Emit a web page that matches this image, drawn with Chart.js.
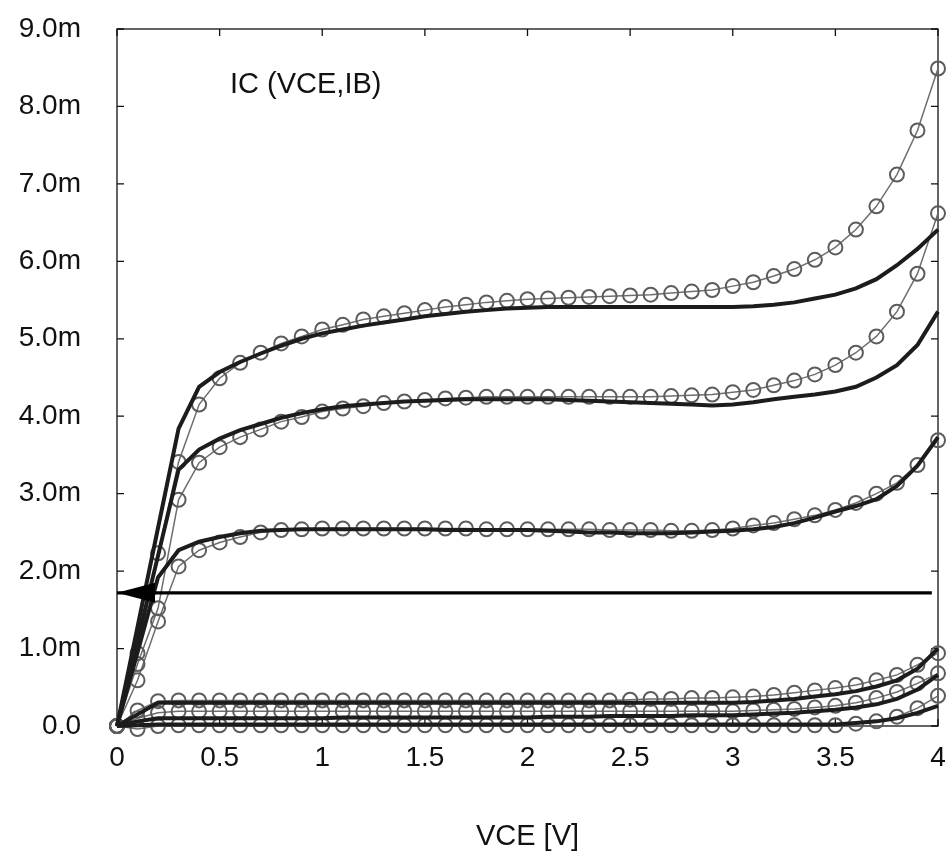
<!DOCTYPE html>
<html>
<head>
<meta charset="utf-8">
<script src="https://cdn.jsdelivr.net/npm/chart.js@4.4.0/dist/chart.umd.min.js"></script>
<style>
  html, body { margin: 0; padding: 0; background: #fff; }
  #wrap { width: 947px; height: 855px; }
</style>
</head>
<body>
<div id="wrap"><canvas id="chart" width="947" height="855"></canvas></div>
<script>
// VCE sweep (V) and IC values (mA), measured (circles) and model (thick)
const vce = [0, 0.1, 0.2, 0.3, 0.4, 0.5, 0.6, 0.7, 0.8, 0.9, 1.0,
  1.1, 1.2, 1.3, 1.4, 1.5, 1.6, 1.7, 1.8, 1.9, 2.0,
  2.1, 2.2, 2.3, 2.4, 2.5, 2.6, 2.7, 2.8, 2.9, 3.0,
  3.1, 3.2, 3.3, 3.4, 3.5, 3.6, 3.7, 3.8, 3.9, 4.0];

const measA = [0, 0.94, 2.23, 3.41, 4.15, 4.49, 4.69, 4.82, 4.94, 5.03, 5.12,
  5.18, 5.25, 5.29, 5.33, 5.37, 5.41, 5.44, 5.47, 5.49, 5.51,
  5.52, 5.53, 5.54, 5.55, 5.56, 5.57, 5.59, 5.61, 5.63, 5.68,
  5.73, 5.81, 5.90, 6.02, 6.18, 6.41, 6.71, 7.12, 7.69, 8.49];
const modelA = [0, 1.28, 2.56, 3.84, 4.38, 4.57, 4.70, 4.81, 4.91, 5.00, 5.07,
  5.12, 5.17, 5.21, 5.25, 5.29, 5.32, 5.35, 5.37, 5.39, 5.40,
  5.41, 5.41, 5.41, 5.41, 5.41, 5.41, 5.41, 5.41, 5.41, 5.41,
  5.42, 5.44, 5.47, 5.52, 5.57, 5.65, 5.77, 5.95, 6.16, 6.41];

const measB = [0, 0.80, 1.52, 2.92, 3.40, 3.60, 3.73, 3.83, 3.93, 3.99, 4.06,
  4.10, 4.13, 4.17, 4.19, 4.21, 4.23, 4.24, 4.25, 4.25, 4.25,
  4.25, 4.25, 4.25, 4.25, 4.25, 4.25, 4.26, 4.27, 4.28, 4.31,
  4.34, 4.40, 4.46, 4.54, 4.66, 4.82, 5.03, 5.35, 5.84, 6.62];
const modelB = [0, 1.10, 2.20, 3.31, 3.57, 3.71, 3.82, 3.90, 3.98, 4.04, 4.09,
  4.13, 4.15, 4.17, 4.19, 4.20, 4.21, 4.22, 4.22, 4.22, 4.22,
  4.22, 4.21, 4.20, 4.19, 4.18, 4.17, 4.16, 4.15, 4.14, 4.15,
  4.18, 4.22, 4.25, 4.28, 4.32, 4.38, 4.50, 4.66, 4.92, 5.35];

const measC = [0, 0.59, 1.35, 2.06, 2.27, 2.37, 2.44, 2.50, 2.53, 2.54, 2.55,
  2.55, 2.55, 2.55, 2.55, 2.55, 2.55, 2.55, 2.54, 2.54, 2.54,
  2.54, 2.54, 2.54, 2.53, 2.53, 2.53, 2.52, 2.52, 2.53, 2.55,
  2.59, 2.62, 2.67, 2.72, 2.79, 2.88, 3.00, 3.14, 3.37, 3.69];
const modelC = [0, 0.95, 1.92, 2.27, 2.38, 2.44, 2.49, 2.52, 2.53, 2.54, 2.54,
  2.54, 2.54, 2.54, 2.54, 2.54, 2.53, 2.53, 2.53, 2.53, 2.53,
  2.52, 2.51, 2.50, 2.50, 2.49, 2.49, 2.49, 2.50, 2.51, 2.52,
  2.54, 2.57, 2.62, 2.69, 2.77, 2.84, 2.93, 3.10, 3.36, 3.73];

const measD = [0, 0.20, 0.32, 0.33, 0.33, 0.33, 0.33, 0.33, 0.33, 0.33, 0.33,
  0.33, 0.33, 0.33, 0.33, 0.33, 0.33, 0.33, 0.33, 0.33, 0.33,
  0.33, 0.33, 0.33, 0.33, 0.34, 0.35, 0.35, 0.36, 0.36, 0.37,
  0.38, 0.40, 0.43, 0.46, 0.49, 0.53, 0.59, 0.66, 0.79, 0.94];
const modelD = [0, 0.15, 0.30, 0.30, 0.30, 0.30, 0.30, 0.30, 0.30, 0.30, 0.30,
  0.30, 0.30, 0.30, 0.30, 0.30, 0.30, 0.30, 0.30, 0.30, 0.30,
  0.30, 0.30, 0.30, 0.30, 0.30, 0.30, 0.30, 0.30, 0.30, 0.30,
  0.31, 0.33, 0.35, 0.38, 0.41, 0.45, 0.51, 0.59, 0.74, 1.00];

const measE = [0, 0.10, 0.17, 0.19, 0.19, 0.19, 0.19, 0.19, 0.19, 0.19, 0.19,
  0.19, 0.19, 0.19, 0.19, 0.19, 0.19, 0.19, 0.19, 0.19, 0.19,
  0.19, 0.19, 0.19, 0.19, 0.19, 0.19, 0.19, 0.19, 0.19, 0.19,
  0.20, 0.21, 0.22, 0.24, 0.26, 0.30, 0.36, 0.44, 0.55, 0.68];
const modelE = [0, 0.06, 0.10, 0.10, 0.10, 0.10, 0.10, 0.10, 0.10, 0.10, 0.10,
  0.11, 0.11, 0.11, 0.11, 0.11, 0.11, 0.11, 0.11, 0.11, 0.11,
  0.12, 0.12, 0.12, 0.13, 0.13, 0.13, 0.13, 0.14, 0.14, 0.14,
  0.15, 0.16, 0.17, 0.19, 0.21, 0.24, 0.28, 0.35, 0.47, 0.66];

const measF = [0, -0.04, 0.00, 0.01, 0.01, 0.01, 0.01, 0.01, 0.01, 0.01, 0.01,
  0.01, 0.01, 0.01, 0.01, 0.01, 0.01, 0.01, 0.01, 0.01, 0.01,
  0.01, 0.01, 0.01, 0.01, 0.01, 0.01, 0.01, 0.01, 0.01, 0.01,
  0.01, 0.01, 0.01, 0.01, 0.01, 0.03, 0.06, 0.12, 0.23, 0.39];
const modelF = [0, 0.01, 0.02, 0.02, 0.02, 0.02, 0.02, 0.02, 0.02, 0.02, 0.02,
  0.02, 0.02, 0.02, 0.02, 0.02, 0.02, 0.02, 0.02, 0.02, 0.02,
  0.02, 0.02, 0.02, 0.02, 0.02, 0.02, 0.02, 0.02, 0.02, 0.02,
  0.02, 0.02, 0.02, 0.02, 0.02, 0.04, 0.06, 0.10, 0.17, 0.26];

// horizontal reference line (mA) and where it ends (V)
const refLevel = 1.72;
const refEnd = 3.97;

const xTickLabels = ['0', '0.5', '1', '1.5', '2', '2.5', '3', '3.5', '4'];
const yTickLabels = ['0.0', '1.0m', '2.0m', '3.0m', '4.0m', '5.0m', '6.0m', '7.0m', '8.0m', '9.0m'];
const plotLabel = 'IC (VCE,IB)';

Chart.defaults.font.family = '"Liberation Sans", Arial, sans-serif';
Chart.defaults.color = '#111';

const toXY = arr => vce.map((v, i) => ({ x: v, y: arr[i] }));

const modelSet = arr => ({
  data: toXY(arr),
  borderColor: '#1c1c1c',
  borderWidth: 4,
  pointRadius: 0,
  tension: 0,
  clip: false,
});
const measSet = arr => ({
  data: toXY(arr),
  borderColor: '#6e6e6e',
  borderWidth: 1.5,
  pointRadius: 7,
  pointStyle: 'circle',
  pointBackgroundColor: 'rgba(0,0,0,0)',
  pointBorderColor: '#5c5c5c',
  pointBorderWidth: 2,
  tension: 0,
  clip: false,
});

// frame with inward ticks, label text and arrow head
const framePlugin = {
  id: 'frame',
  beforeDatasetsDraw(chart) {
    const { ctx, chartArea: a, scales: { x, y } } = chart;
    ctx.save();
    ctx.strokeStyle = '#111';
    ctx.lineWidth = 1.3;
    ctx.strokeRect(a.left, a.top, a.right - a.left, a.bottom - a.top);
    ctx.beginPath();
    x.ticks.forEach(t => {
      const px = x.getPixelForValue(t.value);
      ctx.moveTo(px, a.top); ctx.lineTo(px, a.top + 7);
      ctx.moveTo(px, a.bottom); ctx.lineTo(px, a.bottom - 7);
    });
    y.ticks.forEach(t => {
      const py = y.getPixelForValue(t.value);
      ctx.moveTo(a.left, py); ctx.lineTo(a.left + 7, py);
      ctx.moveTo(a.right, py); ctx.lineTo(a.right - 7, py);
    });
    ctx.stroke();
    ctx.fillStyle = '#111';
    ctx.font = '29px "Liberation Sans", Arial, sans-serif';
    ctx.textBaseline = 'middle';
    ctx.fillText(plotLabel, 230, 85);
    ctx.restore();
  },
  afterDatasetsDraw(chart) {
    const { ctx, scales: { x, y } } = chart;
    const tx = x.getPixelForValue(0);
    const ty = y.getPixelForValue(refLevel);
    ctx.save();
    ctx.fillStyle = '#000';
    ctx.beginPath();
    ctx.moveTo(tx, ty);
    ctx.lineTo(tx + 38, ty - 10);
    ctx.lineTo(tx + 38, ty + 10);
    ctx.closePath();
    ctx.fill();
    ctx.restore();
  }
};

new Chart(document.getElementById('chart'), {
  type: 'line',
  data: {
    datasets: [
      {
        data: [{ x: 0, y: refLevel }, { x: refEnd, y: refLevel }],
        borderColor: '#000',
        borderWidth: 3.3,
        pointRadius: 0,
      },
      modelSet(modelA), modelSet(modelB), modelSet(modelC),
      modelSet(modelD), modelSet(modelE), modelSet(modelF),
      measSet(measA), measSet(measB), measSet(measC),
      measSet(measD), measSet(measE), measSet(measF),
    ],
  },
  options: {
    responsive: false,
    animation: false,
    events: [],
    layout: { padding: { top: 29, right: 8, left: 0, bottom: 0 } },
    plugins: { legend: { display: false }, tooltip: { enabled: false } },
    scales: {
      x: {
        type: 'linear',
        min: 0,
        max: 4,
        grid: { display: false, drawTicks: false },
        border: { display: false },
        ticks: {
          stepSize: 0.5,
          padding: 15,
          font: { size: 28 },
          maxRotation: 0,
          callback: v => xTickLabels[Math.round(v * 2)],
        },
        title: {
          display: true,
          text: 'VCE [V]',
          font: { size: 29 },
          padding: { top: 0, bottom: 1 },
        },
        afterFit(scale) {
          scale.height = 129;
          scale.paddingLeft = 0;
          scale.paddingRight = 0;
        },
      },
      y: {
        type: 'linear',
        min: 0,
        max: 9,
        grid: { display: false, drawTicks: false },
        border: { display: false },
        ticks: {
          stepSize: 1,
          padding: 36,
          font: { size: 28 },
          callback: v => yTickLabels[Math.round(v)],
        },
        afterFit(scale) {
          scale.width = 117;
          scale.paddingTop = 0;
          scale.paddingBottom = 0;
        },
      },
    },
  },
  plugins: [framePlugin],
});
</script>
</body>
</html>
